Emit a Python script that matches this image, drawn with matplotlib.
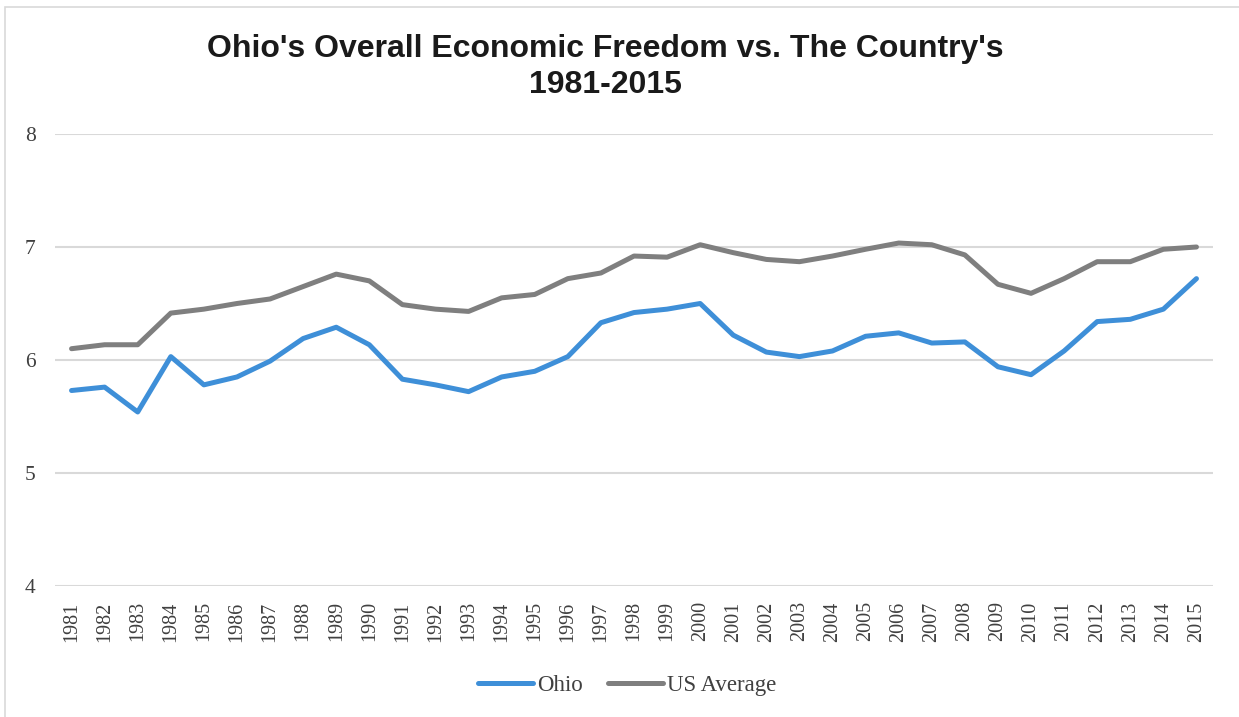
import matplotlib
matplotlib.use("Agg")
import matplotlib.pyplot as plt
from matplotlib.patches import Rectangle

years = [str(y) for y in range(1981, 2016)]
ohio = [5.73, 5.76, 5.54, 6.03, 5.78, 5.85, 5.99, 6.19, 6.29, 6.135,
        5.83, 5.78, 5.72, 5.85, 5.90, 6.03, 6.33, 6.42, 6.45, 6.50,
        6.22, 6.07, 6.03, 6.08, 6.21, 6.24, 6.15, 6.16, 5.94, 5.87,
        6.08, 6.34, 6.36, 6.45, 6.72]
us_avg = [6.10, 6.135, 6.135, 6.415, 6.45, 6.50, 6.54, 6.65, 6.76, 6.70,
          6.49, 6.45, 6.43, 6.55, 6.58, 6.72, 6.77, 6.92, 6.91, 7.02,
          6.95, 6.89, 6.87, 6.92, 6.98, 7.035, 7.02, 6.93, 6.67, 6.59,
          6.72, 6.87, 6.87, 6.98, 7.00]
y_ticks = [4, 5, 6, 7, 8]

W, H = 1239, 717
fig = plt.figure(figsize=(W / 100, H / 100), dpi=100)
fig.patch.set_facecolor("white")

# light outer frame of the chart area (only left and top edges fall inside)
fig.add_artist(Rectangle((5 / W, -0.1), 1.2, 1.1 - 7 / H, transform=fig.transFigure,
                         fill=False, edgecolor="#D9D9D9", linewidth=1.2))

ax = fig.add_axes([55 / W, 1 - 586 / H, (1213 - 55) / W, (586 - 134) / H])
x = list(range(len(years)))
ax.plot(x, ohio, color="#3E8FD8", linewidth=3.6, solid_capstyle="round",
        solid_joinstyle="round", label="Ohio", zorder=3)
ax.plot(x, us_avg, color="#7F7F7F", linewidth=3.6, solid_capstyle="round",
        solid_joinstyle="round", label="US Average", zorder=3)

ax.set_xlim(-0.5, len(years) - 0.5)
ax.set_ylim(4, 8)
ax.set_yticks(y_ticks)
ax.set_yticklabels([str(v) for v in y_ticks], fontfamily="Liberation Serif",
                   fontsize=15.5, color="#404040")
ax.set_xticks(x)
ax.set_xticklabels(years, rotation=90, fontfamily="Liberation Serif",
                   fontsize=14.5, color="#404040")
ax.tick_params(axis="both", length=0)
ax.tick_params(axis="y", pad=14)
ax.tick_params(axis="x", pad=11)
ax.grid(axis="y", color="#D9D9D9", linewidth=1.5, zorder=0)
for s in ax.spines.values():
    s.set_visible(False)

fig.text(605 / W, 1 - 49 / H, "Ohio's Overall Economic Freedom vs. The Country's",
         ha="center", va="center", fontfamily="Liberation Sans",
         fontweight="bold", fontsize=23, color="#1A1A1A")
fig.text(605 / W, 1 - 85 / H, "1981-2015",
         ha="center", va="center", fontfamily="Liberation Sans",
         fontweight="bold", fontsize=23, color="#1A1A1A")

leg = fig.legend(loc="center", bbox_to_anchor=(627 / W, 1 - 685 / H), ncol=2,
                 frameon=False, handlelength=2.4, handletextpad=0.18,
                 columnspacing=1.1,
                 prop={"family": "Liberation Serif", "size": 16.5})
for t in leg.get_texts():
    t.set_color("#404040")

fig.savefig("out.png", dpi=100, facecolor="white")
